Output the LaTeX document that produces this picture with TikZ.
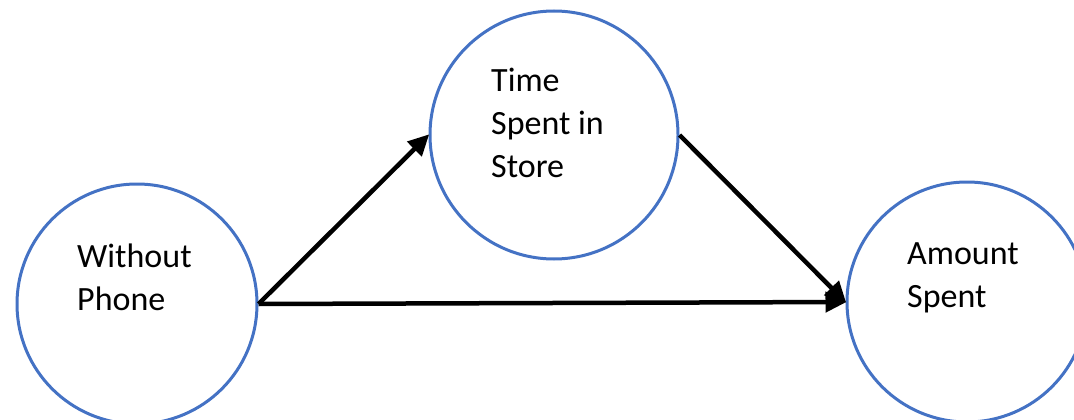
\documentclass[tikz,border=0pt]{standalone}
\usepackage{fontspec}
\setmainfont{Carlito}
\usetikzlibrary{arrows.meta}
\definecolor{circblue}{RGB}{68,114,196}
\begin{document}
\begin{tikzpicture}[x=1pt,y=-1pt,
  varcircle/.style={circle,draw=circblue,line width=3pt,minimum size=#1,inner sep=0pt},
  lbl/.style={anchor=base west,inner sep=0pt,font=\fontsize{34}{43}\selectfont},
  conn/.style={line width=4.5pt,-{Triangle[length=21pt,width=20pt]},shorten >=-1pt}]
\useasboundingbox (0,0) rectangle (1074,420);
\node[varcircle=240pt] (L) at (137,304) {};
\node[varcircle=248pt] (M) at (554,135) {};
\node[varcircle=240pt] (R) at (967,302) {};
\node[lbl] (Lt) at (77,267) {\begin{tabular}[t]{@{}l@{}}Without\\Phone\end{tabular}};
\node[lbl] (Mt) at (491,92) {\begin{tabular}[t]{@{}l@{}}Time\\Spent in\\Store\end{tabular}};
\node[lbl] (Rt) at (907,264) {\begin{tabular}[t]{@{}l@{}}Amount\\Spent\end{tabular}};
\draw[conn] (L.east) -- (M.west);
\draw[conn] (M.east) -- (R.west);
\draw[conn] (L.east) -- (R.west);
\end{tikzpicture}
\end{document}
